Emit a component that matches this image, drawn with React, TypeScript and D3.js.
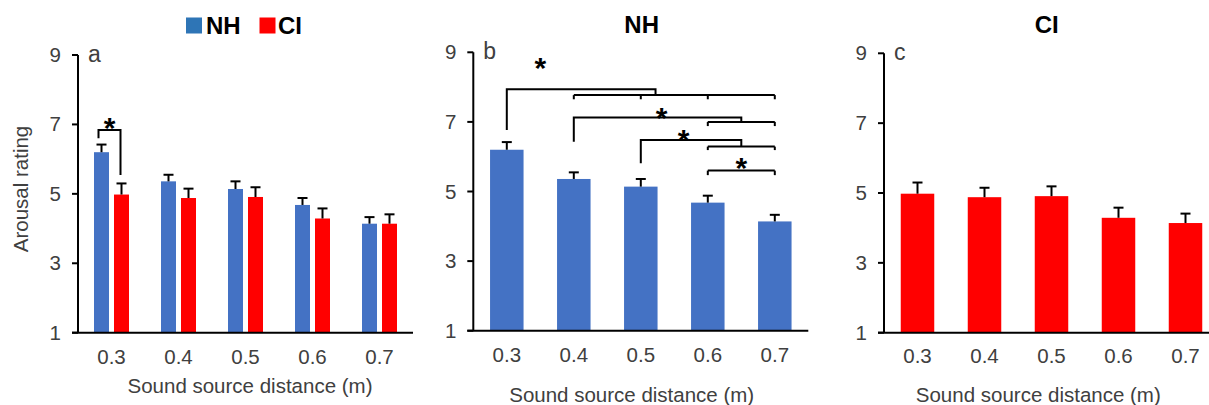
import React from 'react';
import * as d3 from 'd3';

const categories = ['0.3', '0.4', '0.5', '0.6', '0.7'];
const nhMeans = [6.2, 5.36, 5.14, 4.68, 4.14];
const nhErr = [0.22, 0.19, 0.22, 0.2, 0.19];
const ciMeans = [4.98, 4.88, 4.91, 4.29, 4.14];
const ciErr = [0.32, 0.27, 0.28, 0.29, 0.27];
const yTicks = [1, 3, 5, 7, 9];
const groups = ['NH', 'CI'];

// significance annotations (category index, values in rating units)
const panelAComparisons = [{ cat: 0, leftLow: 6.6, top: 6.84, rightLow: 5.54, star: 7.07 }];
const panelBComparisons = [
  { from: 0, legLow: 6.77, top: 7.94, to: 2.22, gFrom: 1, gTo: 4, gY: 7.77, gDrop: 7.65, starX: 0.5, starY: 8.73 },
  { from: 1, legLow: 6.43, top: 7.13, to: 3.5, gFrom: 3, gTo: 4, gY: 7.0, gDrop: 6.88, starX: 2.31, starY: 7.29 },
  { from: 2, legLow: 5.81, top: 6.48, to: 3.5, gFrom: 3, gTo: 4, gY: 6.29, gDrop: 6.19, starX: 2.64, starY: 6.67 },
  { from: -1, legLow: 0, top: 0, to: 0, gFrom: 3, gTo: 4, gY: 5.6, gDrop: 5.47, starX: 3.5, starY: 5.86 },
];

const FONT = '"Liberation Sans", Arial, sans-serif';
const TXT = '#404040';
const BLUE = '#4472C4';
const RED = '#FF0000';
const LEGEND_BLUE = '#2E75B6';
const FS = 20.5;
const STAR_FS = 30;

type PanelCfg = {
  x0: number; top: number; bottom: number; letter: string;
  tickBase: number; titleX: number; titleBase: number;
};

function Axes({ cfg, x, y }: { cfg: PanelCfg; x: d3.ScaleBand<string>; y: d3.ScaleLinear<number, number> }) {
  const [, r1] = x.range();
  return (
    <g>
      <line x1={cfg.x0} x2={cfg.x0} y1={y(9)} y2={y(1)} stroke="#000" strokeWidth={2} />
      <line x1={cfg.x0 - 6} x2={r1} y1={y(1)} y2={y(1)} stroke="#000" strokeWidth={2} />
      {yTicks.map((t) => (
        <g key={t}>
          <line x1={cfg.x0 - 6} x2={cfg.x0} y1={y(t)} y2={y(t)} stroke="#000" strokeWidth={2} />
          <text x={cfg.x0 - 17} y={y(t) + 7} textAnchor="end" fontSize={FS} fill={TXT} fontFamily={FONT}>{t}</text>
        </g>
      ))}
      {categories.map((c) => (
        <text key={c} x={(x(c) as number) + x.bandwidth() / 2} y={cfg.tickBase} textAnchor="middle" fontSize={FS} fill={TXT} fontFamily={FONT}>{c}</text>
      ))}
      <text x={cfg.titleX} y={cfg.titleBase} textAnchor="middle" fontSize={FS} fill={TXT} fontFamily={FONT}>Sound source distance (m)</text>
      <text x={cfg.x0 + 10} y={y(9) + 7} fontSize={23} fill={TXT} fontFamily={FONT}>{cfg.letter}</text>
    </g>
  );
}

function ErrBar({ cx, y0, y1 }: { cx: number; y0: number; y1: number }) {
  return (
    <g>
      <line x1={cx} x2={cx} y1={y0} y2={y1} stroke="#000" strokeWidth={2} />
      <line x1={cx - 5} x2={cx + 5} y1={y1} y2={y1} stroke="#000" strokeWidth={2} />
    </g>
  );
}

function Star({ x, y }: { x: number; y: number }) {
  return (
    <text x={x} y={y + STAR_FS * 0.55} textAnchor="middle" fontSize={STAR_FS} fontWeight="bold" fill="#000" fontFamily={FONT}>*</text>
  );
}

export default function App() {
  const W = 1209, H = 405, AXW = 335;

  // Panel a
  const cfgA: PanelCfg = { x0: 78, top: 55, bottom: 332.7, letter: 'a', tickBase: 364, titleX: 250, titleBase: 392.7 };
  const xA = d3.scaleBand<string>().domain(categories).range([cfgA.x0, cfgA.x0 + AXW]);
  const xAi = d3.scaleBand<string>().domain(groups).range([0, xA.bandwidth()]).paddingInner(0.25).paddingOuter(0.8);
  const yA = d3.scaleLinear().domain([1, 9]).range([cfgA.bottom, cfgA.top]);

  // Panel b
  const cfgB: PanelCfg = { x0: 473.3, top: 52.3, bottom: 330.7, letter: 'b', tickBase: 362, titleX: 631.7, titleBase: 401.7 };
  const xB = d3.scaleBand<string>().domain(categories).range([cfgB.x0, cfgB.x0 + AXW]).paddingInner(0.5).paddingOuter(0.25);
  const yB = d3.scaleLinear().domain([1, 9]).range([cfgB.bottom, cfgB.top]);
  const cB = (i: number) => cfgB.x0 + (i + 0.5) * xB.step();

  // Panel c
  const cfgC: PanelCfg = { x0: 884, top: 53.3, bottom: 332.7, letter: 'c', tickBase: 363, titleX: 1038.3, titleBase: 401.7 };
  const xC = d3.scaleBand<string>().domain(categories).range([cfgC.x0, cfgC.x0 + AXW]).paddingInner(0.5).paddingOuter(0.25);
  const yC = d3.scaleLinear().domain([1, 9]).range([cfgC.bottom, cfgC.top]);

  const seriesA = [
    { key: 'NH', means: nhMeans, err: nhErr, color: BLUE },
    { key: 'CI', means: ciMeans, err: ciErr, color: RED },
  ];

  return (
    <svg width={W} height={H} style={{ position: 'absolute', left: 0, top: 0, background: '#fff' }}>
      <rect x={0} y={0} width={W} height={H} fill="#fff" />
      {/* Legend */}
      <rect x={186} y={17.5} width={16} height={16} fill={LEGEND_BLUE} />
      <text x={206} y={33.5} fontSize={24} fontWeight="bold" fill="#000" fontFamily={FONT}>NH</text>
      <rect x={259.5} y={17.5} width={16} height={16} fill={RED} />
      <text x={278} y={33.5} fontSize={24} fontWeight="bold" fill="#000" fontFamily={FONT}>CI</text>

      {/* Panel a */}
      <g>
        {seriesA.map((s) => (
          <g key={s.key}>
            {categories.map((c, i) => {
              const bx = (xA(c) as number) + (xAi(s.key) as number);
              const bw = xAi.bandwidth();
              return (
                <g key={c}>
                  <rect x={bx} y={yA(s.means[i])} width={bw} height={yA(1) - yA(s.means[i])} fill={s.color} />
                  <ErrBar cx={bx + bw / 2} y0={yA(s.means[i])} y1={yA(s.means[i] + s.err[i])} />
                </g>
              );
            })}
          </g>
        ))}
        {panelAComparisons.map((p, k) => {
          const c = categories[p.cat];
          const lx = (xA(c) as number) + (xAi('NH') as number) + xAi.bandwidth() / 2 - 3;
          const rx = (xA(c) as number) + (xAi('CI') as number) + xAi.bandwidth() / 2 - 1;
          return (
            <g key={k}>
              <path d={`M${lx},${yA(p.leftLow)}V${yA(p.top)}H${rx}V${yA(p.rightLow)}`} fill="none" stroke="#000" strokeWidth={2} />
              <Star x={(lx + rx) / 2} y={yA(p.star)} />
            </g>
          );
        })}
        <Axes cfg={cfgA} x={xA} y={yA} />
        <text transform={`translate(28,189) rotate(-90)`} textAnchor="middle" fontSize={FS} fill={TXT} fontFamily={FONT}>Arousal rating</text>
      </g>

      {/* Panel b */}
      <g>
        <text x={641.7} y={33} textAnchor="middle" fontSize={24} fontWeight="bold" fill="#000" fontFamily={FONT}>NH</text>
        {categories.map((c, i) => {
          const bx = xB(c) as number;
          const bw = xB.bandwidth();
          return (
            <g key={c}>
              <rect x={bx} y={yB(nhMeans[i])} width={bw} height={yB(1) - yB(nhMeans[i])} fill={BLUE} />
              <ErrBar cx={bx + bw / 2} y0={yB(nhMeans[i])} y1={yB(nhMeans[i] + nhErr[i])} />
            </g>
          );
        })}
        {panelBComparisons.map((p, k) => {
          const ticks = d3.range(p.gFrom, p.gTo + 1);
          return (
            <g key={k} fill="none" stroke="#000" strokeWidth={2}>
              {p.from >= 0 && (
                <path d={`M${cB(p.from)},${yB(p.legLow)}V${yB(p.top)}H${cB(p.to)}V${yB(p.gY)}`} />
              )}
              <line x1={cB(p.gFrom)} x2={cB(p.gTo)} y1={yB(p.gY)} y2={yB(p.gY)} />
              {ticks.map((t) => (
                <line key={t} x1={cB(t)} x2={cB(t)} y1={yB(p.gY)} y2={yB(p.gDrop)} />
              ))}
              <g stroke="none">
                <Star x={cB(p.starX)} y={yB(p.starY)} />
              </g>
            </g>
          );
        })}
        <Axes cfg={cfgB} x={xB} y={yB} />
      </g>

      {/* Panel c */}
      <g>
        <text x={1046.7} y={33} textAnchor="middle" fontSize={24} fontWeight="bold" fill="#000" fontFamily={FONT}>CI</text>
        {categories.map((c, i) => {
          const bx = xC(c) as number;
          const bw = xC.bandwidth();
          return (
            <g key={c}>
              <rect x={bx} y={yC(ciMeans[i])} width={bw} height={yC(1) - yC(ciMeans[i])} fill={RED} />
              <ErrBar cx={bx + bw / 2} y0={yC(ciMeans[i])} y1={yC(ciMeans[i] + ciErr[i])} />
            </g>
          );
        })}
        <Axes cfg={cfgC} x={xC} y={yC} />
      </g>
    </svg>
  );
}
